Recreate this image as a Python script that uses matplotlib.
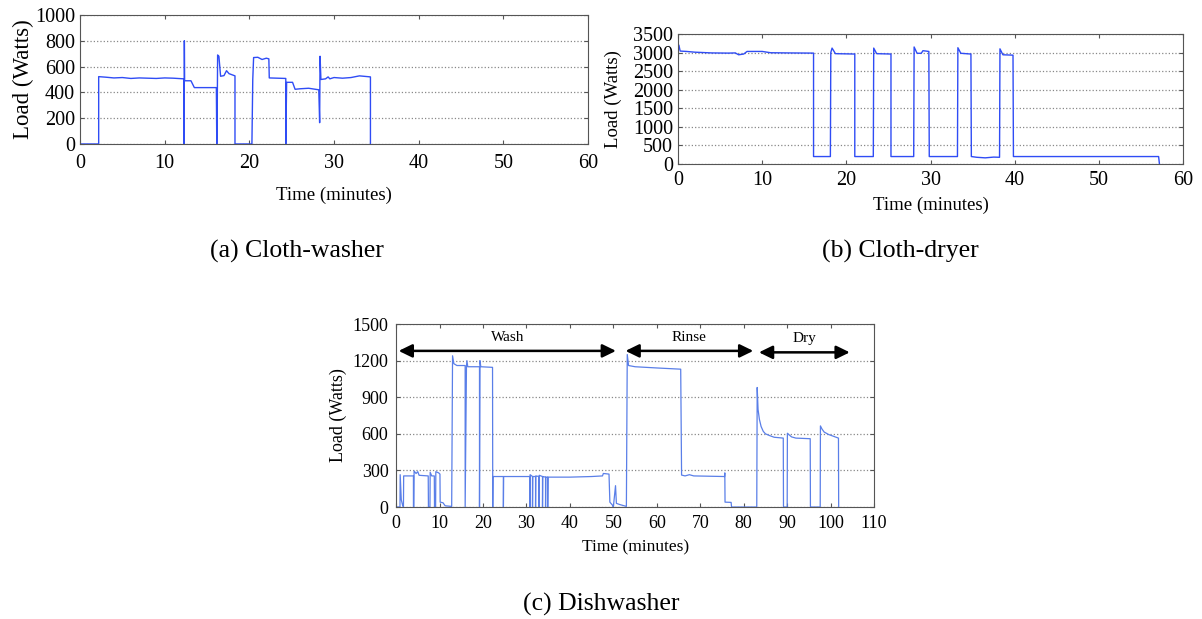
import numpy as np
import matplotlib
matplotlib.use("Agg")
import matplotlib.pyplot as plt

plt.rcParams['font.family'] = ['Liberation Serif', 'DejaVu Serif']

# (a) cloth-washer: breakpoints (minutes, watts)
washer_t = [0, 2.2, 2.2, 3, 4, 5, 6, 7, 8, 9, 10, 11, 12.25, 12.3, 12.32, 12.35,
            13.1, 13.5, 16.1, 16.15, 16.2, 16.25, 16.4, 16.6, 17.0, 17.3, 17.6, 18.3,
            18.3, 20.3, 20.4, 20.5, 21.0, 21.5, 22.0, 22.3, 22.35, 24.3, 24.3, 24.4,
            25.1, 25.4, 26, 27, 28.2, 28.3, 28.35, 28.45, 29.0, 29.3, 29.5, 30, 31,
            32, 33, 34.3, 34.3]
washer_w = [0, 0, 522, 518, 512, 515, 508, 512, 510, 508, 512, 510, 505, 0, 800, 490,
            490, 437, 437, 0, 225, 690, 680, 525, 530, 568, 545, 528,
            0, 0, 500, 670, 672, 655, 665, 660, 512, 508, 0, 478,
            478, 424, 428, 432, 420, 165, 680, 500, 505, 520, 505, 515, 510,
            515, 528, 520, 0]

# (b) cloth-dryer
dryer_t = [0, 0.1, 0.25, 1, 2, 4, 6, 6.8, 7.2, 7.8, 8.2, 10, 11, 13, 16.1, 16.1,
           18.1, 18.15, 18.3, 18.7, 21.0, 21.0, 23.2, 23.25, 23.6, 25.3, 25.3,
           28.0, 28.05, 28.4, 28.9, 29.1, 29.8, 29.85, 33.2, 33.25, 33.6, 34.8,
           34.85, 35.5, 36.5, 37.5, 38.2, 38.25, 38.6, 39.8, 39.85, 57.1, 57.2]
dryer_w = [3030, 3200, 3040, 3030, 3010, 2990, 2985, 2990, 2940, 2960, 3030, 3030,
           2995, 2990, 2985, 200, 200, 3000, 3120, 2970, 2960, 200, 200, 3120, 2970,
           2960, 200, 200, 3150, 2980, 2980, 3050, 3030, 200, 200, 3130, 2980, 2960,
           200, 180, 165, 185, 180, 3100, 2940, 2930, 200, 200, 0]

# (c) dishwasher
dish_t = [0, 0.9, 0.95, 1.2, 1.5, 1.7, 1.75, 4.0, 4.0, 4.1, 4.15, 4.6, 5.0, 5.3,
          7.4, 7.45, 7.8, 7.85, 8.2, 8.8, 8.85, 9.1, 9.15, 9.8, 10.1, 10.15, 10.8,
          11.3, 12.8, 13.0, 13.3, 14, 15.9, 15.9, 16.2, 16.3, 16.5, 19.2, 19.2, 19.3,
          19.5, 22.2, 22.25, 22.3, 24.7, 24.7, 24.75, 30.8, 30.8, 30.85, 31.4, 31.4,
          31.45, 32.1, 32.1, 32.15, 32.9, 32.9, 32.95, 33.7, 33.7, 33.75, 34.4, 34.4,
          34.45, 34.9, 34.9, 34.95, 40, 45, 47.5, 47.7, 49.0, 49.2, 49.8, 50.0, 50.5,
          50.7, 51.5, 53.0, 53.2, 53.5, 55, 60, 65.5, 65.6, 65.7, 66.5, 67.5, 68.5,
          75.6, 75.65, 75.7, 77.1, 77.2, 79, 83.0, 83.05, 83.1, 83.3, 83.6, 84, 84.5,
          85, 86, 87, 89.1, 89.15, 90.0, 90.05, 90.5, 91, 92, 95.3, 95.35, 97.6,
          97.65, 98.0, 98.5, 99.5, 101.8, 101.85]
dish_w = [0, 0, 265, 60, 15, 0, 255, 255, 0, 0, 295, 275, 290, 260,
          255, 0, 0, 285, 255, 255, 0, 0, 290, 280, 270, 40, 35,
          10, 5, 1240, 1175, 1160, 1160, 0, 1150, 1200, 1150, 1150, 0, 1200,
          1150, 1145, 0, 250, 250, 0, 250, 250, 0, 265, 250, 0,
          250, 250, 0, 255, 250, 0, 260, 250, 0, 250, 245, 0,
          245, 245, 0, 245, 245, 250, 255, 275, 270, 40, 15, 0, 175,
          30, 20, 5, 1250, 1160, 1150, 1140, 1130, 700, 262, 255, 265, 255,
          250, 280, 40, 38, 0, 0, 0, 480, 980, 800, 720, 660, 620,
          600, 585, 572, 565, 0, 0, 605, 590, 575, 565, 560, 0, 0,
          665, 640, 615, 595, 565, 0]

# dishwasher phases: label, start, end (minutes), arrow height (watts)
phase_names = ['Wash', 'Rinse', 'Dry']
phase_start = [0.6, 52.8, 83.5]
phase_end = [50.6, 82.2, 104.4]
phase_level = [1280, 1280, 1268]


def style_axes(ax, xmax, ymax, ystep, fs=14.5, xpad=7, ypad=3.5):
    ax.set_xlim(0, xmax)
    ax.set_ylim(0, ymax)
    ax.set_xticks(np.arange(0, xmax + 1, 10))
    ax.set_yticks(np.arange(0, ymax + 1, ystep))
    ax.yaxis.grid(True, linestyle=':', color='#888888', linewidth=0.9)
    ax.set_axisbelow(True)
    ax.tick_params(direction='in', top=True, right=True, length=3,
                   labelsize=fs, color='#555555')
    ax.tick_params(axis='x', pad=xpad)
    ax.tick_params(axis='y', pad=ypad)
    for s in ax.spines.values():
        s.set_color('#555555')
        s.set_linewidth(0.8)


fig = plt.figure(figsize=(12.02, 6.19), dpi=100)

ax1 = fig.add_axes([0.0666, 0.7674, 0.4226, 0.2084])
ax1.plot(washer_t, washer_w, color='#2f4cf5', lw=1.0)
style_axes(ax1, 60, 1000, 200, xpad=7)
ax1.set_xlabel('Time (minutes)', fontsize=13.5, labelpad=10)
ax1.set_ylabel('Load (Watts)', fontsize=16.5, labelpad=1)

ax2 = fig.add_axes([0.5641, 0.7351, 0.4201, 0.2100])
ax2.plot(dryer_t, dryer_w, color='#2f4cf5', lw=1.0)
style_axes(ax2, 60, 3500, 500, xpad=5)
ax2.set_xlabel('Time (minutes)', fontsize=13.5, labelpad=5)
ax2.set_ylabel('Load (Watts)', fontsize=13.5, labelpad=8)

ax3 = fig.add_axes([0.3295, 0.1809, 0.3977, 0.2956])
ax3.plot(dish_t, dish_w, color='#5a7fe8', lw=0.9)
style_axes(ax3, 110, 1500, 300, fs=13, xpad=6, ypad=5.5)
ax3.set_xlabel('Time (minutes)', fontsize=12.5, labelpad=5)
ax3.set_ylabel('Load (Watts)', fontsize=13, labelpad=4)
for name, x0, x1, y in zip(phase_names, phase_start, phase_end, phase_level):
    ax3.annotate('', xy=(x1, y), xytext=(x0, y),
                 arrowprops=dict(arrowstyle='<|-|>,head_length=0.45,head_width=0.22',
                                 color='black', lw=1.8,
                                 mutation_scale=18, shrinkA=0, shrinkB=0))
    ax3.text((x0 + x1) / 2, y + 60, name, ha='center', va='bottom', fontsize=11)

fig.text(0.247, 0.5945, '(a) Cloth-washer', ha='center', va='center', fontsize=18.5)
fig.text(0.749, 0.5945, '(b) Cloth-dryer', ha='center', va='center', fontsize=18.5)
fig.text(0.500, 0.024, '(c) Dishwasher', ha='center', va='center', fontsize=18.5)

fig.savefig('out.png', dpi=100)
